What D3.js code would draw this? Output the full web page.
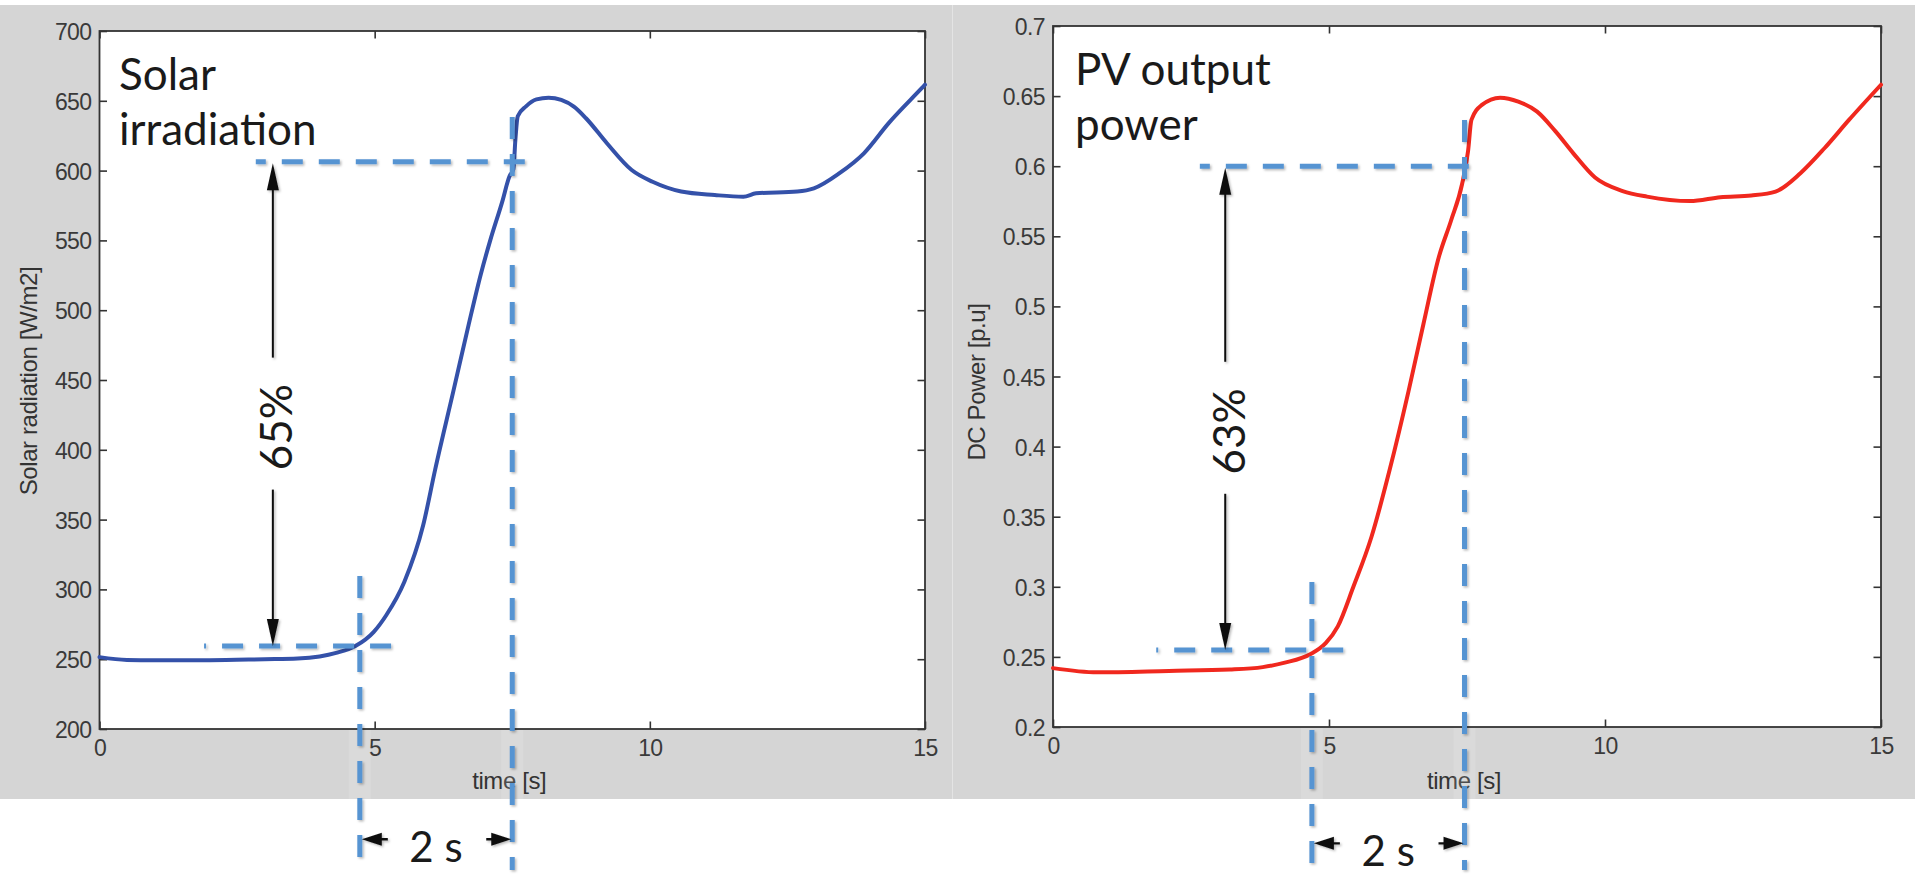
<!DOCTYPE html>
<html><head><meta charset="utf-8">
<script src="https://cdn.jsdelivr.net/npm/d3@7"></script>
<style>
html,body{margin:0;padding:0;background:#fff;}
svg{display:block;}
</style></head><body>
<svg id="chart" width="1915" height="877"></svg>
<script>
// ---------------- data ----------------
const timeTicks = [0, 5, 10, 15];
const timeTickLabels = ["0", "5", "10", "15"];
const irrTicks = [200, 250, 300, 350, 400, 450, 500, 550, 600, 650, 700];
const irrTickLabels = ["200", "250", "300", "350", "400", "450", "500", "550", "600", "650", "700"];
const powTicks = [0.2, 0.25, 0.3, 0.35, 0.4, 0.45, 0.5, 0.55, 0.6, 0.65, 0.7];
const powTickLabels = ["0.2", "0.25", "0.3", "0.35", "0.4", "0.45", "0.5", "0.55", "0.6", "0.65", "0.7"];

// Solar irradiation curve [W/m2]
const irrTime  = [0, 0.5, 1, 2, 3, 3.6, 4.0, 4.3, 4.65, 4.98, 5.21, 5.54, 5.88, 6.1, 6.43, 6.71, 6.93, 7.1, 7.32, 7.45, 7.52, 7.56, 7.60, 7.75, 7.94, 8.16, 8.39, 8.62, 8.84, 9.22, 9.67, 10.05, 10.57, 11.18, 11.7, 11.93, 12.68, 12.98, 13.44, 13.89, 14.34, 14.94, 15];
const irrValue = [251.5, 249.5, 249.3, 249.3, 250, 250.5, 252, 254.5, 259.4, 269.4, 281.5, 305.5, 345.7, 386, 442, 490, 526, 550, 578, 596, 601, 624, 639, 646, 651, 652.2, 650.6, 645.8, 637.5, 619.6, 600.4, 592, 585, 582.5, 581.3, 583.7, 585, 587.3, 598, 612.4, 634, 659, 661.5];

// PV output (DC) power curve [p.u]
const powTime  = [0, 0.8, 2.1, 3.2, 3.8, 4.2, 4.66, 4.94, 5.16, 5.44, 5.77, 6.1, 6.44, 6.71, 6.99, 7.21, 7.41, 7.52, 7.58, 7.77, 8.1, 8.43, 8.77, 9.1, 9.43, 9.82, 10.32, 10.76, 11.54, 12.09, 12.65, 13.09, 13.54, 13.98, 14.42, 15];
const powValue = [0.242, 0.239, 0.240, 0.241, 0.2427, 0.2459, 0.2519, 0.2598, 0.2718, 0.2998, 0.3357, 0.3836, 0.4394, 0.4873, 0.5352, 0.5611, 0.5871, 0.611, 0.633, 0.6437, 0.6489, 0.6461, 0.6389, 0.625, 0.609, 0.5919, 0.5823, 0.5783, 0.5751, 0.5779, 0.5791, 0.5819, 0.595, 0.613, 0.633, 0.6581];

// annotation values (data units)
const irrLevels      = [259.4, 606.4];     // lower / upper dashed level
const irrLevelSpans  = [[1.90, 5.32], [2.84, 7.79]];
const irrMarkTimes   = [4.73, 7.50];       // vertical dashed lines
const irrMarkTops    = [309.6, 638.4];
const irrMarkBottom  = 99;
const irrArrowTime   = 3.15;
const irrStepLevel   = 121;
const powLevels      = [0.255, 0.600];
const powLevelSpans  = [[1.87, 5.27], [2.66, 7.59]];
const powMarkTimes   = [4.69, 7.455];
const powMarkTops    = [0.3034, 0.633];
const powMarkBottom  = 0.098;
const powArrowTime   = 3.12;
const powStepLevel   = 0.117;

const irrTitle = ["Solar", "irradiation"];
const powTitle = ["PV output", "power"];
const irrPercent = "65%";
const powPercent = "63%";
const stepLabel = "2 s";

// ---------------- drawing ----------------
const svg = d3.select("#chart");
const defs = svg.append("defs");
const f = defs.append("filter").attr("id", "sh").attr("x", "-20%").attr("y", "-20%").attr("width", "140%").attr("height", "140%");
f.append("feDropShadow").attr("dx", 1.5).attr("dy", 1.5).attr("stdDeviation", 1.2)
  .attr("flood-color", "#000").attr("flood-opacity", 0.28);

const tickFont = '"Liberation Sans", Arial, Helvetica, sans-serif';
const annFont = 'Lato, "Open Sans", sans-serif';
const axisCol = "#333";
const dashCol = "#5794d2";

// grey backgrounds
svg.append("rect").attr("x", 0).attr("y", 5).attr("width", 952).attr("height", 794).attr("fill", "#d5d5d5");
svg.append("rect").attr("x", 953).attr("y", 5).attr("width", 962).attr("height", 794).attr("fill", "#d5d5d5");
svg.append("rect").attr("x", 952).attr("y", 5).attr("width", 1).attr("height", 794).attr("fill", "#e4e4e4");

function panel(o) {
  const x = d3.scaleLinear().domain([0, 15]).range(o.xr);
  const y = d3.scaleLinear().domain(o.yd).range(o.yr);
  const g = svg.append("g");
  // white plot area
  g.append("rect").attr("x", o.xr[0]).attr("y", o.yr[1])
    .attr("width", o.xr[1] - o.xr[0]).attr("height", o.yr[0] - o.yr[1]).attr("fill", "#fff");

  const styleAxis = sel => {
    sel.select(".domain").remove();
    sel.selectAll(".tick line").attr("stroke", axisCol).attr("stroke-width", 1.6);
    sel.selectAll(".tick text").attr("fill", "#3a3a3a").style("font-family", tickFont).style("font-size", "23px");
  };
  const tk = 7.5;
  g.append("g").attr("transform", `translate(0,${o.yr[0]})`)
    .call(d3.axisBottom(x).tickValues(timeTicks).tickFormat((d, i) => timeTickLabels[i]).tickSizeInner(-tk).tickSizeOuter(0).tickPadding(11))
    .call(styleAxis);
  g.append("g").attr("transform", `translate(0,${o.yr[1]})`)
    .call(d3.axisTop(x).tickValues(timeTicks).tickFormat("").tickSizeInner(-tk).tickSizeOuter(0))
    .call(styleAxis);
  const ya = g.append("g").attr("transform", `translate(${o.xr[0]},0)`)
    .call(d3.axisLeft(y).tickValues(o.ticks).tickFormat((d, i) => o.tickLabels[i]).tickSizeInner(-tk).tickSizeOuter(0).tickPadding(8))
    .call(styleAxis);
  ya.selectAll(".tick text").attr("dy", "0.37em");
  g.append("g").attr("transform", `translate(${o.xr[1]},0)`)
    .call(d3.axisRight(y).tickValues(o.ticks).tickFormat("").tickSizeInner(-tk).tickSizeOuter(0))
    .call(styleAxis);
  g.selectAll(".tick text").style("letter-spacing", "-0.6px");

  // box
  g.append("rect").attr("x", o.xr[0]).attr("y", o.yr[1])
    .attr("width", o.xr[1] - o.xr[0]).attr("height", o.yr[0] - o.yr[1])
    .attr("fill", "none").attr("stroke", axisCol).attr("stroke-width", 1.8);

  // axis labels
  g.append("text").attr("x", (o.xr[0] + o.xr[1]) / 2 - 3).attr("y", 789)
    .attr("text-anchor", "middle").attr("fill", "#333")
    .style("font-family", tickFont).style("font-size", "24px").style("letter-spacing", "-0.4px").text("time [s]");
  g.append("text").attr("transform", `translate(${o.ylabX},${o.ylabY}) rotate(-90)`)
    .attr("text-anchor", "middle").attr("fill", "#333")
    .style("font-family", tickFont).style("font-size", "24px").style("letter-spacing", "-0.4px").text(o.ylab);

  // curve
  const line = d3.line().x(d => x(d[0])).y(d => y(d[1])).curve(d3.curveMonotoneX);
  g.append("path").datum(o.t.map((t, i) => [t, o.v[i]]))
    .attr("d", line).attr("fill", "none").attr("stroke", o.color)
    .attr("stroke-width", 4).attr("stroke-linejoin", "round").attr("stroke-linecap", "round");

  // title
  const tt = g.append("text").attr("fill", "#1a1a1a").style("font-family", annFont).style("font-size", "44px");
  tt.append("tspan").attr("x", o.titleX).attr("y", o.titleY).text(o.title[0]);
  tt.append("tspan").attr("x", o.titleX).attr("y", o.titleY + 55).text(o.title[1]);

  // light patches where dashed lines cross grey margin
  o.markT.forEach(t => {
    g.append("rect").attr("x", x(t) - 11).attr("y", o.yr[0] + 1).attr("width", 22).attr("height", 799 - o.yr[0] - 1)
      .attr("fill", "#fff").attr("opacity", 0.13);
  });

  // annotations
  const a = g.append("g").attr("filter", "url(#sh)");
  o.levels.forEach((lv, i) => {
    a.append("line").attr("x1", x(o.spans[i][0])).attr("x2", x(o.spans[i][1]))
      .attr("y1", y(lv)).attr("y2", y(lv))
      .attr("stroke", dashCol).attr("stroke-width", 5)
      .attr("stroke-dasharray", "21 16").attr("stroke-dashoffset", i === 0 ? 19 : 11);
  });
  o.markT.forEach((t, i) => {
    a.append("line").attr("x1", x(t)).attr("x2", x(t))
      .attr("y1", y(o.markTops[i])).attr("y2", y(o.markBottom))
      .attr("stroke", dashCol).attr("stroke-width", 5)
      .attr("stroke-dasharray", "22 15");
  });
  // vertical double arrow
  const ax = x(o.arrowT);
  const yTop = y(o.levels[1]) + 1.5, yBot = y(o.levels[0]);
  const mid = (yTop + yBot) / 2;
  const gapC = mid + 19, half = 66;
  const b = g.append("g").attr("filter", "url(#sh)");
  b.append("line").attr("x1", ax).attr("x2", ax).attr("y1", yTop + 20).attr("y2", gapC - half)
    .attr("stroke", "#111").attr("stroke-width", 2);
  b.append("line").attr("x1", ax).attr("x2", ax).attr("y1", gapC + half).attr("y2", yBot - 20)
    .attr("stroke", "#111").attr("stroke-width", 2);
  b.append("path").attr("d", `M${ax},${yTop} L${ax - 6},${yTop + 27} L${ax + 6},${yTop + 27} Z`).attr("fill", "#111");
  b.append("path").attr("d", `M${ax},${yBot} L${ax - 6},${yBot - 27} L${ax + 6},${yBot - 27} Z`).attr("fill", "#111");
  g.append("text").attr("transform", `translate(${ax + 19.5},${mid + 22.5}) rotate(-90)`)
    .attr("text-anchor", "middle").attr("fill", "#1a1a1a")
    .style("font-family", annFont).style("font-size", "44px").text(o.percent);

  // "2 s" horizontal arrows
  const x1 = x(o.markT[0]), x2 = x(o.markT[1]);
  const ay = y(o.stepLevel);
  b.append("path").attr("d", `M${x1 + 2},${ay} L${x1 + 22},${ay - 6.5} L${x1 + 22},${ay - 1.2} L${x1 + 28},${ay - 1.2} L${x1 + 28},${ay + 1.2} L${x1 + 22},${ay + 1.2} L${x1 + 22},${ay + 6.5} Z`).attr("fill", "#111");
  b.append("path").attr("d", `M${x2 - 1},${ay} L${x2 - 21},${ay - 6.5} L${x2 - 21},${ay - 1.2} L${x2 - 26},${ay - 1.2} L${x2 - 26},${ay + 1.2} L${x2 - 21},${ay + 1.2} L${x2 - 21},${ay + 6.5} Z`).attr("fill", "#111");
  g.append("text").attr("x", (x1 + x2) / 2).attr("y", ay + 22.5)
    .attr("text-anchor", "middle").attr("fill", "#1a1a1a")
    .style("font-family", annFont).style("font-size", "42px").text(stepLabel);
}

panel({
  xr: [99.5, 925], yr: [729, 31], yd: [200, 700], ticks: irrTicks, tickLabels: irrTickLabels,
  ylab: "Solar radiation [W/m2]", ylabX: 37, ylabY: 381,
  t: irrTime, v: irrValue, color: "#3451a9",
  title: irrTitle, titleX: 119, titleY: 90,
  levels: irrLevels, spans: irrLevelSpans, markT: irrMarkTimes, markTops: irrMarkTops, markBottom: irrMarkBottom,
  arrowT: irrArrowTime, stepLevel: irrStepLevel, percent: irrPercent
});
panel({
  xr: [1053, 1881], yr: [727, 26], yd: [0.2, 0.7], ticks: powTicks, tickLabels: powTickLabels,
  ylab: "DC Power [p.u]", ylabX: 985, ylabY: 382,
  t: powTime, v: powValue, color: "#f0281e",
  title: powTitle, titleX: 1075, titleY: 85,
  levels: powLevels, spans: powLevelSpans, markT: powMarkTimes, markTops: powMarkTops, markBottom: powMarkBottom,
  arrowT: powArrowTime, stepLevel: powStepLevel, percent: powPercent
});
</script>
</body></html>
